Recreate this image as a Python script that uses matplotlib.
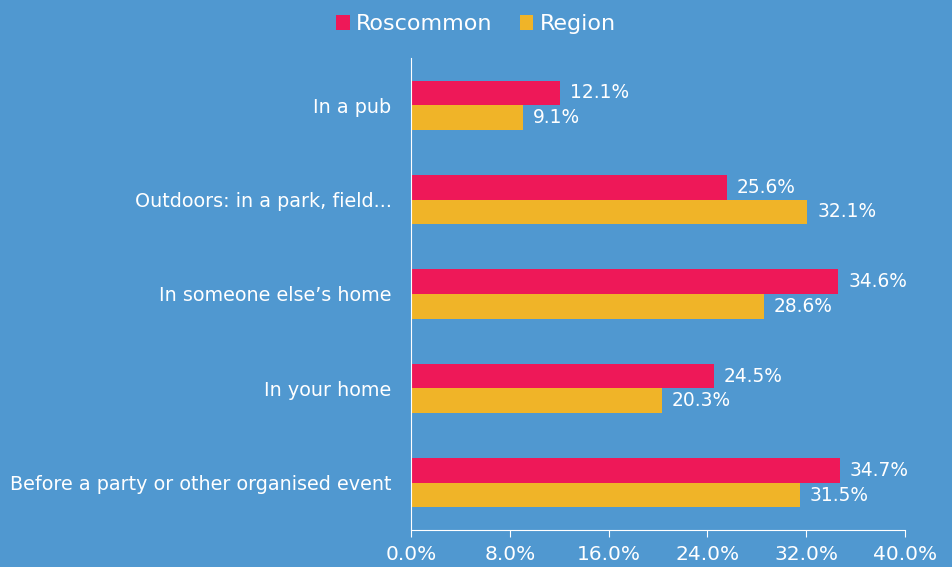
import matplotlib.pyplot as plt
import numpy as np

categories = ['In a pub', 'Outdoors: in a park, field...', 'In someone else\u2019s home',
              'In your home', 'Before a party or other organised event']
roscommon = [12.1, 25.6, 34.6, 24.5, 34.7]
region = [9.1, 32.1, 28.6, 20.3, 31.5]
ticks = [0, 8, 16, 24, 32, 40]

bg = '#5098D0'
pink = '#EE1858'
yellow = '#F0B428'

plt.rcParams['font.family'] = ['DejaVu Sans']

fig = plt.figure(figsize=(9.52, 5.67), dpi=100, facecolor=bg)
ax = fig.add_axes([411 / 952, 1 - 530 / 567, 494 / 952, 472 / 567])
ax.set_facecolor(bg)

y = np.arange(len(categories))
h = 0.26
ax.barh(y - h / 2, roscommon, height=h, color=pink, label='Roscommon')
ax.barh(y + h / 2, region, height=h, color=yellow, label='Region')

for yi, r, g in zip(y, roscommon, region):
    ax.text(r + 0.8, yi - h / 2, f'{r:.1f}%', va='center', ha='left', color='white', fontsize=13.4)
    ax.text(g + 0.8, yi + h / 2, f'{g:.1f}%', va='center', ha='left', color='white', fontsize=13.4)

ax.set_ylim(len(categories) - 0.5, -0.5)
ax.set_xlim(0, 40)
ax.set_yticks(y)
ax.set_yticklabels(categories, color='white', fontsize=13.8)
ax.set_xticks(ticks)
ax.set_xticklabels([f'{t:.1f}%' for t in ticks], color='white', fontsize=14.5)
ax.tick_params(axis='y', length=0, pad=14)
ax.tick_params(axis='x', length=5, color='white', pad=6)

for s in ['top', 'right']:
    ax.spines[s].set_visible(False)
ax.spines['left'].set_color('white')
ax.spines['bottom'].set_color('white')

fig.legend(loc='upper center', bbox_to_anchor=(0.5, 1.01), ncol=2, frameon=False,
           fontsize=16, labelcolor='white', handlelength=0.6, handleheight=0.6,
           handletextpad=0.3, columnspacing=1.2)

fig.savefig('out.png', dpi=100, facecolor=bg)
